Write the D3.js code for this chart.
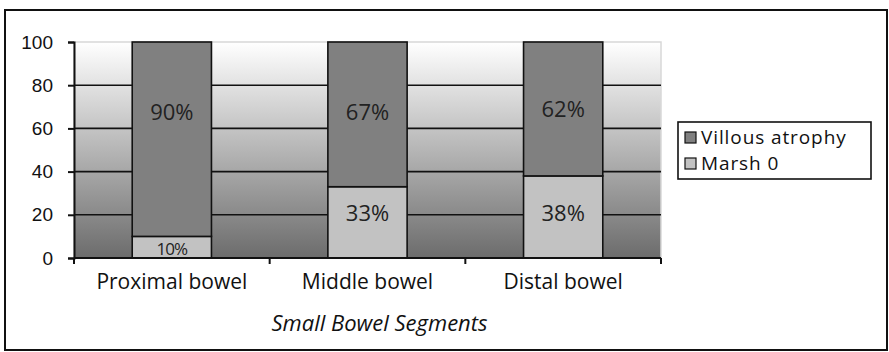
<!DOCTYPE html>
<html><head><meta charset="utf-8">
<script src="https://cdn.jsdelivr.net/npm/d3@7"></script>
<style>body{margin:0;background:#fff}svg{display:block}</style>
</head><body>
<svg id="c" width="889" height="352"></svg>
<script>
const categories = ["Proximal bowel", "Middle bowel", "Distal bowel"];
const marsh0 = [10, 33, 38];
const villous = [90, 67, 62];
const yTicks = [0, 20, 40, 60, 80, 100];
const seriesNames = ["Villous atrophy", "Marsh 0"];
const axisTitle = "Small Bowel Segments";

const svg = d3.select("#c");
const L = 74, R = 661, T = 42, B = 258;
const x = d3.scaleBand().domain(categories).range([L, R]).paddingInner(0.595).paddingOuter(0.2975);
const xb = d3.scaleBand().domain(categories).range([L, R]).padding(0);
const y = d3.scaleLinear().domain([0, 100]).range([B, T]);

// outer border
svg.append("rect").attr("x", 5).attr("y", 10).attr("width", 882).attr("height", 340)
  .attr("fill", "#fff").attr("stroke", "#111").attr("stroke-width", 2);

const defs = svg.append("defs");
const g = defs.append("linearGradient").attr("id", "bg").attr("x1", 0).attr("y1", 0).attr("x2", 0).attr("y2", 1);
g.append("stop").attr("offset", "0%").attr("stop-color", "#ffffff");
g.append("stop").attr("offset", "100%").attr("stop-color", "#6c6c6c");

svg.append("rect").attr("x", L).attr("y", T).attr("width", R - L).attr("height", B - T)
  .attr("fill", "url(#bg)").attr("stroke", "#d8d8d8").attr("stroke-width", 1.5);

// gridlines
svg.append("g").selectAll("line").data(yTicks.filter(d => d > 0 && d < 100)).join("line")
  .attr("x1", L).attr("x2", R).attr("y1", d => y(d)).attr("y2", d => y(d))
  .attr("stroke", "#111").attr("stroke-width", 1.6);

// bars
const data = categories.map((c, i) => ({c, m: marsh0[i], v: villous[i]}));
const stack = d3.stack().keys(["m", "v"])(data);
const colors = {m: "#c2c2c2", v: "#808080"};
stack.forEach(s => {
  svg.append("g").selectAll("rect").data(s).join("rect")
    .attr("x", d => x(d.data.c)).attr("width", x.bandwidth())
    .attr("y", d => y(d[1])).attr("height", d => y(d[0]) - y(d[1]))
    .attr("fill", colors[s.key]).attr("stroke", "#111").attr("stroke-width", 1.6);
});

// labels
const lblFont = "'Open Sans', 'Lato', sans-serif";
data.forEach(d => {
  const cx = x(d.c) + x.bandwidth() / 2;
  const vMid = Math.max(d.m + d.v / 2, 67.5);
  svg.append("text").attr("x", cx).attr("y", y(vMid)).attr("dy", "0.35em")
    .attr("text-anchor", "middle").attr("font-family", lblFont).attr("font-size", 22)
    .attr("fill", "#222").text(d.v + "%");
  const small = d.m < 15;
  const mMid = small ? d.m / 2 - 1 : Math.max(d.m / 2, 20.8);
  svg.append("text").attr("x", cx).attr("y", y(mMid)).attr("dy", "0.35em")
    .attr("text-anchor", "middle").attr("font-family", lblFont).attr("font-size", small ? 17 : 22)
    .attr("letter-spacing", small ? -1 : 0)
    .attr("fill", "#222").text(d.m + "%");
});

// y axis
const ya = svg.append("g").attr("transform", `translate(${L},0)`)
  .call(d3.axisLeft(y).tickValues(yTicks).tickSize(6).tickPadding(15));
ya.select(".domain").attr("stroke", "#111").attr("stroke-width", 2);
ya.selectAll(".tick line").attr("stroke", "#111").attr("stroke-width", 2);
ya.selectAll("text").attr("font-family", "'Liberation Sans', Arial, sans-serif").attr("font-size", 19).attr("fill", "#111");

// x axis
const xa = svg.append("g").attr("transform", `translate(0,${B})`);
xa.append("line").attr("x1", L).attr("x2", R).attr("y1", 0).attr("y2", 0).attr("stroke", "#111").attr("stroke-width", 2);
const bounds = categories.map(c => xb(c)).concat([R]);
xa.selectAll(".tk").data(bounds).join("line").attr("class", "tk")
  .attr("x1", d => d).attr("x2", d => d).attr("y1", 0).attr("y2", 6).attr("stroke", "#111").attr("stroke-width", 2);
xa.selectAll(".lb").data(categories).join("text").attr("class", "lb")
  .attr("x", d => x(d) + x.bandwidth() / 2).attr("y", 31).attr("text-anchor", "middle")
  .attr("font-family", lblFont).attr("font-size", 21).attr("fill", "#111").text(d => d);

svg.append("text").attr("x", (L + R) / 2 + 12).attr("y", 331).attr("text-anchor", "middle")
  .attr("font-family", lblFont).attr("font-style", "italic").attr("font-size", 22).attr("fill", "#111")
  .text(axisTitle);

// legend
const lg = svg.append("g").attr("transform", "translate(678,122)");
lg.append("rect").attr("width", 193).attr("height", 57).attr("fill", "#fff").attr("stroke", "#111").attr("stroke-width", 1.6);
const legCol = [colors.v, colors.m];
seriesNames.forEach((n, i) => {
  lg.append("rect").attr("x", 7).attr("y", 10 + i * 26).attr("width", 11).attr("height", 11)
    .attr("fill", legCol[i]).attr("stroke", "#111").attr("stroke-width", 1.2);
  lg.append("text").attr("x", 23).attr("y", 22 + i * 26).attr("font-family", lblFont)
    .attr("font-size", 19).attr("letter-spacing", 0.9).attr("fill", "#111").text(n);
});
</script>
</body></html>
